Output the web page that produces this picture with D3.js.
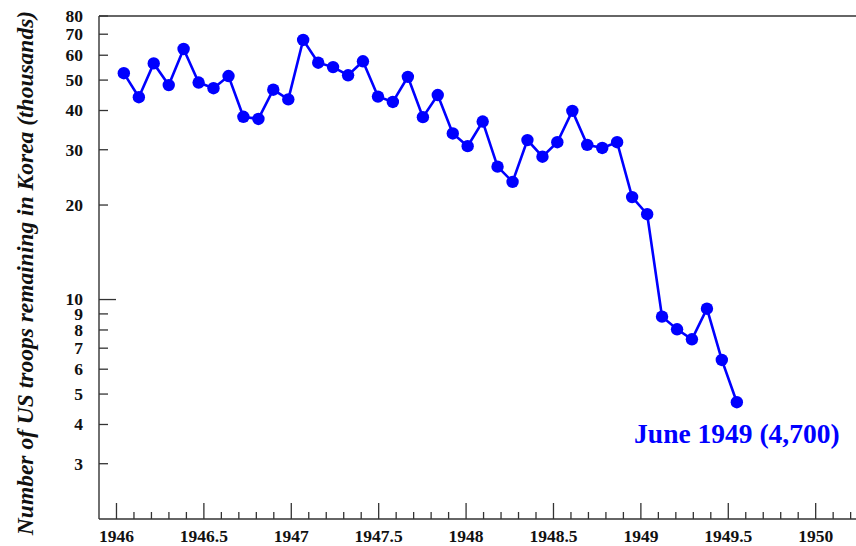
<!DOCTYPE html>
<html>
<head>
<meta charset="utf-8">
<script src="https://cdn.jsdelivr.net/npm/d3@7"></script>
<style>
  body { margin: 0; background: #fff; }
  svg { display: block; }
  .tick-label { font-family: "Liberation Serif", "Times New Roman", serif; font-weight: bold; font-size: 17.5px; fill: #111; }
  .axis-title { font-family: "Liberation Serif", "Times New Roman", serif; font-weight: bold; font-style: italic; font-size: 23.5px; fill: #111; }
  .note { font-family: "Liberation Serif", "Times New Roman", serif; font-weight: bold; font-size: 27.5px; fill: #0000ff; }
</style>
</head>
<body>
<svg id="chart" width="856" height="546"></svg>
<script>
// month positions (decimal years) as plotted, Jan 1946 .. Jun 1949
const dates = [
  1946.042, 1946.128, 1946.213, 1946.299, 1946.384, 1946.470, 1946.555, 1946.641,
  1946.726, 1946.812, 1946.897, 1946.983, 1947.068, 1947.154, 1947.239, 1947.325,
  1947.410, 1947.496, 1947.581, 1947.667, 1947.753, 1947.838, 1947.924, 1948.009,
  1948.095, 1948.180, 1948.266, 1948.351, 1948.437, 1948.522, 1948.608, 1948.693,
  1948.779, 1948.864, 1948.950, 1949.036, 1949.121, 1949.207, 1949.292, 1949.378,
  1949.463, 1949.549
];
// troops remaining, thousands
const troops = [
  52.6, 44.1, 56.5, 48.2, 62.8, 49.1, 47.1, 51.5,
  38.2, 37.6, 46.6, 43.4, 67.1, 56.8, 55.0, 51.8,
  57.4, 44.3, 42.6, 51.2, 38.1, 44.8, 33.8, 30.8,
  36.9, 26.5, 23.7, 32.2, 28.5, 31.7, 39.9, 31.1,
  30.4, 31.7, 21.2, 18.7, 8.82, 8.04, 7.47, 9.35,
  6.42, 4.71
];
const yTickValues = [3, 4, 5, 6, 7, 8, 9, 10, 20, 30, 40, 50, 60, 70, 80];
const yMajor = [10];
const xTickLabels = [1946, 1946.5, 1947, 1947.5, 1948, 1948.5, 1949, 1949.5, 1950];
const noteText = "June 1949 (4,700)";
const yTitle = "Number of US troops remaining in Korea (thousands)";

const svg = d3.select('#chart');
const margin = { top: 16, left: 99, bottom: 519 };

const x = d3.scaleLinear().domain([1945.9, 1950.3]).range([margin.left, margin.left + 4.4 * 174.8]);
const y = d3.scaleLog().domain([2, 80]).range([margin.bottom, margin.top]);

const axisColor = '#333';

// top border and spines
svg.append('line')
  .attr('x1', margin.left).attr('x2', 856)
  .attr('y1', margin.top).attr('y2', margin.top)
  .attr('stroke', axisColor).attr('stroke-width', 1.4);
svg.append('line')
  .attr('x1', margin.left).attr('x2', margin.left)
  .attr('y1', margin.top).attr('y2', margin.bottom)
  .attr('stroke', axisColor).attr('stroke-width', 1.4);
svg.append('line')
  .attr('x1', margin.left).attr('x2', 856)
  .attr('y1', margin.bottom).attr('y2', margin.bottom)
  .attr('stroke', axisColor).attr('stroke-width', 1.4);

// y ticks (inward)
const yt = svg.append('g');
yt.selectAll('line')
  .data(yTickValues)
  .enter().append('line')
  .attr('x1', margin.left)
  .attr('x2', d => margin.left + (yMajor.includes(d) ? 17 : 9))
  .attr('y1', d => y(d)).attr('y2', d => y(d))
  .attr('stroke', axisColor).attr('stroke-width', 1.3);
yt.selectAll('text')
  .data(yTickValues)
  .enter().append('text')
  .attr('class', 'tick-label')
  .attr('x', 83)
  .attr('y', d => y(d))
  .attr('dy', '0.34em')
  .attr('text-anchor', 'end')
  .text(d => d);

// x ticks (inward, minor every 0.1)
const xMinor = d3.range(19460, 19503, 1).map(d => d / 10);
const xt = svg.append('g');
xt.selectAll('line')
  .data(xMinor)
  .enter().append('line')
  .attr('x1', d => x(d)).attr('x2', d => x(d))
  .attr('y1', margin.bottom)
  .attr('y2', d => margin.bottom - (Math.round(d * 10) % 5 === 0 ? 16 : 7))
  .attr('stroke', axisColor).attr('stroke-width', 1.3);
xt.selectAll('text')
  .data(xTickLabels)
  .enter().append('text')
  .attr('class', 'tick-label')
  .attr('x', d => x(d))
  .attr('y', 542)
  .attr('text-anchor', 'middle')
  .text(d => d);

// axis title
svg.append('text')
  .attr('class', 'axis-title')
  .attr('transform', 'translate(33,273) rotate(-90)')
  .attr('text-anchor', 'middle')
  .text(yTitle);

// series
const data = dates.map((d, i) => ({ date: d, value: troops[i] }));
const line = d3.line().x(d => x(d.date)).y(d => y(d.value));

svg.append('path')
  .datum(data)
  .attr('fill', 'none')
  .attr('stroke', '#0000ff')
  .attr('stroke-width', 2.6)
  .attr('d', line);

svg.selectAll('.dot')
  .data(data)
  .enter().append('circle')
  .attr('class', 'dot')
  .attr('cx', d => x(d.date))
  .attr('cy', d => y(d.value))
  .attr('r', 6.2)
  .attr('fill', '#0000ff');

// annotation under last point
const last = data[data.length - 1];
svg.append('text')
  .attr('class', 'note')
  .attr('x', x(last.date))
  .attr('y', y(last.value) + 41)
  .attr('text-anchor', 'middle')
  .text(noteText);
</script>
</body>
</html>
